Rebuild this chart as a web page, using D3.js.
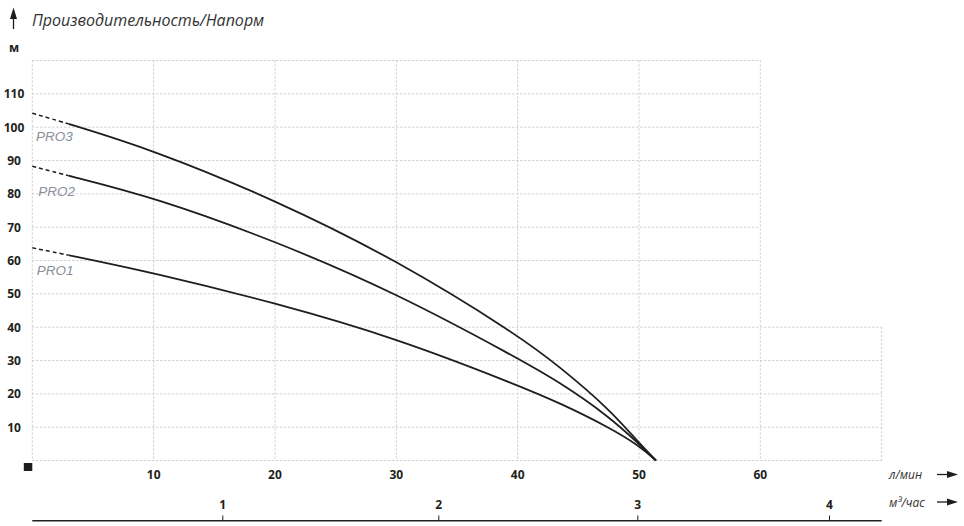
<!DOCTYPE html>
<html><head><meta charset="utf-8">
<script src="https://cdn.jsdelivr.net/npm/d3@7"></script>
<style>
html,body{margin:0;padding:0;background:#fff;}
svg{display:block;}
</style></head>
<body>
<svg id="chart" width="964" height="526"></svg>
<script>
// ---- data ----
const flowLmin = [0, 3, 10, 20, 30, 40, 43.5, 47.5, 50, 51.4];
const pro1 = [63.8, 61.6, 56.3, 47.3, 36.7, 22.6, 17.2, 10.0, 4.5, 0];
const pro2 = [88.3, 85.4, 79.0, 65.9, 50.2, 30.7, 23.4, 13.3, 5.0, 0];
const pro3 = [104.2, 101.0, 93.1, 78.2, 60.2, 37.7, 28.0, 15.6, 5.3, 0];
const seriesNames = ["PRO1", "PRO2", "PRO3"];
const dashedUntil = 3; // l/min — extrapolated part
const labelHeads = [55.65, 79.4, 95.9];
const xTicks = [10, 20, 30, 40, 50, 60];
const yTicks = [10, 20, 30, 40, 50, 60, 70, 80, 90, 100, 110];
const m3Ticks = [1, 2, 3, 4];
const m3TickFlow = [15.7, 33.5, 49.9, 65.7];
const title = "Производительность/Напорм";
const yUnit = "м";
const xUnit1 = "л/мин";
const xUnit2 = "м³/час";

// ---- scales ----
const x = d3.scaleLinear().domain([0, 70]).range([32.3, 881.7]);
const y = d3.scaleLinear().domain([0, 120]).range([460.5, 60.5]);

const svg = d3.select("#chart");
const gridCol = "#c9c9c9";
const g = svg.append("g");

// grid: vertical lines
const vLines = [0, 10, 20, 30, 40, 50, 60];
g.selectAll(".vg").data(vLines).enter().append("line")
  .attr("x1", d => x(d)).attr("x2", d => x(d))
  .attr("y1", y(120)).attr("y2", y(0))
  .attr("stroke", gridCol).attr("stroke-width", 1).attr("stroke-dasharray", "2,2");
g.append("line").attr("x1", x(70)).attr("x2", x(70)).attr("y1", y(40)).attr("y2", y(0))
  .attr("stroke", gridCol).attr("stroke-dasharray", "2,2");
const hLines = [0, 10, 20, 30, 40, 50, 60, 70, 80, 90, 100, 110, 120];
g.selectAll(".hg").data(hLines).enter().append("line")
  .attr("x1", x(0)).attr("x2", d => d <= 40 ? x(70) : x(60))
  .attr("y1", d => y(d)).attr("y2", d => y(d))
  .attr("stroke", gridCol).attr("stroke-width", 1).attr("stroke-dasharray", "2,2");

// curves
const allSeries = [pro1, pro2, pro3];
const line = d3.line().x(d => x(d[0])).y(d => y(d[1])).curve(d3.curveBasis);
allSeries.forEach((s, i) => {
  const pts = flowLmin.map((f, j) => [f, s[j]]);
  const clipId = "clipd" + i;
  svg.append("clipPath").attr("id", clipId).append("rect")
    .attr("x", 0).attr("y", 0).attr("width", x(dashedUntil)).attr("height", 526);
  const clipId2 = "clips" + i;
  svg.append("clipPath").attr("id", clipId2).append("rect")
    .attr("x", x(dashedUntil)).attr("y", 0).attr("width", 964).attr("height", 526);
  svg.append("path").attr("d", line(pts)).attr("fill", "none")
    .attr("stroke", "#1e1e1e").attr("stroke-width", 1.5).attr("stroke-dasharray", "4,3")
    .attr("clip-path", `url(#${clipId})`);
  svg.append("path").attr("d", line(pts)).attr("fill", "none")
    .attr("stroke", "#1e1e1e").attr("stroke-width", 1.8)
    .attr("clip-path", `url(#${clipId2})`);
});

// series labels
const labelDx = [4.4, 6, 3.7];
svg.selectAll(".slab").data(seriesNames).enter().append("text")
  .attr("x", (d, i) => x(0) + labelDx[i])
  .attr("y", (d, i) => y(labelHeads[i]))
  .attr("font-family", "'Liberation Sans', Arial, sans-serif").attr("font-style", "italic")
  .attr("font-size", 13.5).attr("fill", "#8a909a").text(d => d);

// y tick labels
svg.selectAll(".yt").data(yTicks).enter().append("text")
  .attr("x", 14).attr("y", d => y(d) + 4.5).attr("text-anchor", "middle")
  .attr("font-family", "'Open Sans', sans-serif").attr("font-weight", 700)
  .attr("font-size", 12).attr("fill", "#231f20").text(d => d);
svg.append("text").attr("x", 14).attr("y", 52).attr("text-anchor", "middle")
  .attr("font-family", "'Open Sans', sans-serif").attr("font-weight", 700)
  .attr("font-size", 12).attr("fill", "#231f20").text(yUnit);

// x tick labels
svg.selectAll(".xt").data(xTicks).enter().append("text")
  .attr("x", d => x(d)).attr("y", 479).attr("text-anchor", "middle")
  .attr("font-family", "'Open Sans', sans-serif").attr("font-weight", 700)
  .attr("font-size", 12).attr("fill", "#231f20").text(d => d);

// black square at origin
svg.append("rect").attr("x", x(0) - 8.5).attr("y", 463).attr("width", 8.5).attr("height", 8).attr("fill", "#1e1e1e");

// m3/h axis
svg.append("line").attr("x1", x(0)).attr("x2", x(70)).attr("y1", 520.7).attr("y2", 520.7)
  .attr("stroke", "#231f20").attr("stroke-width", 1.6);
svg.selectAll(".m3t").data(m3Ticks).enter().append("line")
  .attr("x1", (d, i) => x(m3TickFlow[i])).attr("x2", (d, i) => x(m3TickFlow[i]))
  .attr("y1", 515.5).attr("y2", 520).attr("stroke", "#231f20").attr("stroke-width", 1);
svg.selectAll(".m3l").data(m3Ticks).enter().append("text")
  .attr("x", (d, i) => x(m3TickFlow[i])).attr("y", 509).attr("text-anchor", "middle")
  .attr("font-family", "'Open Sans', sans-serif").attr("font-weight", 700)
  .attr("font-size", 12).attr("fill", "#231f20").text(d => d);

// unit labels with arrows
function arrowH(yy) {
  svg.append("line").attr("x1", 937).attr("x2", 950).attr("y1", yy).attr("y2", yy)
    .attr("stroke", "#1e1e1e").attr("stroke-width", 1.3);
  svg.append("path").attr("d", `M947,${yy-3.5} L958,${yy} L947,${yy+3.5} Z`).attr("fill", "#1e1e1e");
}
svg.append("text").attr("x", 889).attr("y", 478.5)
  .attr("font-family", "'Open Sans', sans-serif").attr("font-style", "italic")
  .attr("font-size", 12).attr("fill", "#333").text(xUnit1);
arrowH(474.5);
svg.append("text").attr("x", 889).attr("y", 506.5)
  .attr("font-family", "'Open Sans', sans-serif").attr("font-style", "italic")
  .attr("font-size", 12).attr("fill", "#333").text(xUnit2);
arrowH(502);

// title with up arrow
svg.append("line").attr("x1", 13.5).attr("x2", 13.5).attr("y1", 14).attr("y2", 29)
  .attr("stroke", "#1e1e1e").attr("stroke-width", 1.3);
svg.append("path").attr("d", "M10,19 L13.5,7.5 L17,19 Z").attr("fill", "#1e1e1e");
svg.append("text").attr("x", 32).attr("y", 26)
  .attr("font-family", "'Open Sans', sans-serif").attr("font-style", "italic")
  .attr("font-size", 16).attr("fill", "#333").text(title);
</script>
</body></html>
